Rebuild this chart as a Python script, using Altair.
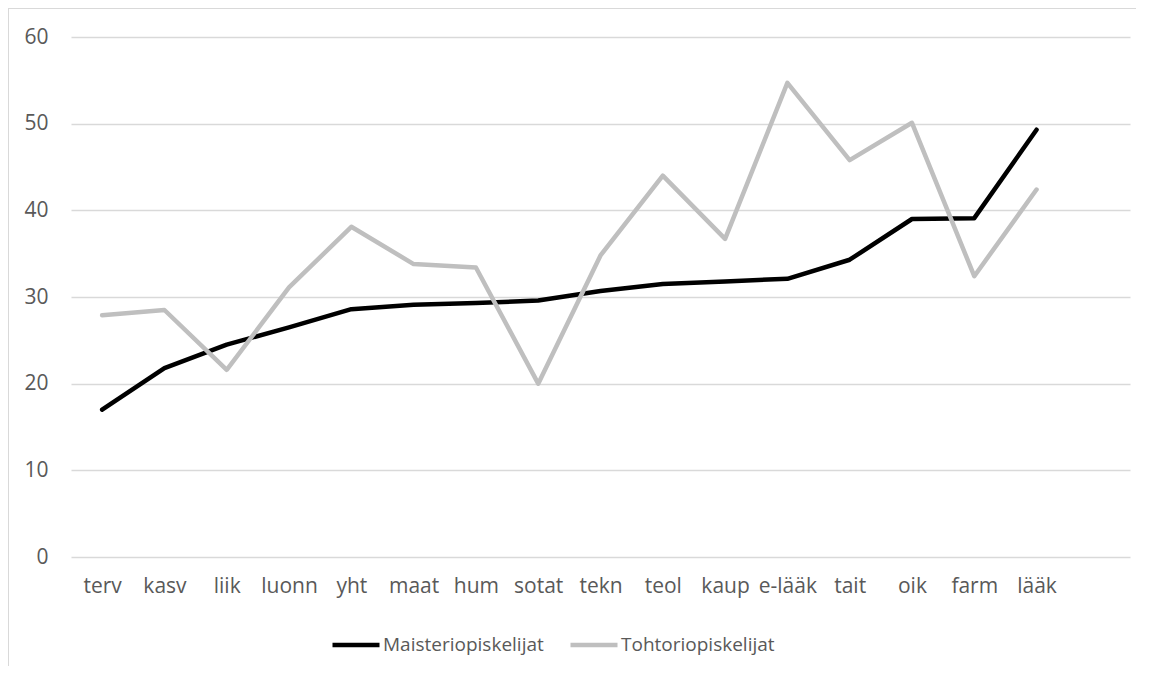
import altair as alt
import pandas as pd

categories = ["terv", "kasv", "liik", "luonn", "yht", "maat", "hum", "sotat",
              "tekn", "teol", "kaup", "e-lääk", "tait", "oik", "farm", "lääk"]
maisteri = [17.0, 21.8, 24.5, 26.5, 28.6, 29.1, 29.3, 29.6,
            30.7, 31.5, 31.8, 32.1, 34.3, 39.0, 39.1, 49.3]
tohtori = [27.9, 28.5, 21.6, 31.1, 38.1, 33.8, 33.4, 20.0,
           34.8, 44.0, 36.7, 54.7, 45.8, 50.1, 32.4, 42.4]
series_names = ["Maisteriopiskelijat", "Tohtoriopiskelijat"]
series_colors = ["#000000", "#BFBFBF"]
y_ticks = [0, 10, 20, 30, 40, 50, 60]

domain_x = categories + [" "]

rows = []
for c, v in zip(categories, maisteri):
    rows.append({"cat": c, "value": v, "series": series_names[0]})
for c, v in zip(categories, tohtori):
    rows.append({"cat": c, "value": v, "series": series_names[1]})
df = pd.DataFrame(rows)

FONT = "Open Sans"
FS = 21
LABEL_COLOR = "#595959"
GRID = "#D9D9D9"

x_enc = alt.X("cat:N", sort=domain_x,
              scale=alt.Scale(type="point", domain=domain_x, padding=0.5),
              axis=alt.Axis(title=None, labelAngle=0, domain=False, ticks=False,
                            grid=False, labelPadding=18, labelFontSize=FS,
                            labelFont=FONT, labelColor=LABEL_COLOR))
y_enc = alt.Y("value:Q", scale=alt.Scale(domain=[0, 60], nice=False),
              axis=alt.Axis(title=None, values=y_ticks, domain=False, ticks=False,
                            grid=True, gridColor=GRID, gridWidth=1.5,
                            labelPadding=23, labelFontSize=FS, labelFont=FONT,
                            labelColor=LABEL_COLOR))
color_enc = alt.Color("series:N",
                      scale=alt.Scale(domain=series_names, range=series_colors),
                      legend=alt.Legend(title=None, orient="none", direction="horizontal",
                                        legendX=259, legendY=582,
                                        symbolType="stroke", symbolSize=2209,
                                        symbolStrokeWidth=4.5, labelFontSize=19,
                                        labelFont=FONT, labelColor=LABEL_COLOR,
                                        labelOffset=1, columnPadding=17,
                                        labelLimit=400))

base = alt.Chart(df)
line_m = base.mark_line(strokeWidth=4.5, strokeCap="round", strokeJoin="round").encode(
    x=x_enc, y=y_enc, color=color_enc
).transform_filter(alt.datum.series == series_names[0])
line_t = base.mark_line(strokeWidth=4.5, strokeCap="round", strokeJoin="round").encode(
    x=x_enc, y=y_enc, color=color_enc
).transform_filter(alt.datum.series == series_names[1])

one = pd.DataFrame({"a": [0]})
border_left = alt.Chart(one).mark_rule(color=GRID, strokeWidth=2).encode(
    x=alt.value(-63), y=alt.value(-29), y2=alt.value(640))
border_top = alt.Chart(one).mark_rule(color=GRID, strokeWidth=2).encode(
    x=alt.value(-63), x2=alt.value(1075), y=alt.value(-29))

chart = alt.layer(border_left, border_top, line_m, line_t).properties(
    width=1059, height=520,
    autosize=alt.AutoSizeParams(type="none"),
    padding={"left": 63, "top": 29, "right": 6, "bottom": 109},
    background="white",
).configure_view(stroke=None)

chart.save("out.html", embed_options={"renderer": "svg", "actions": False})
